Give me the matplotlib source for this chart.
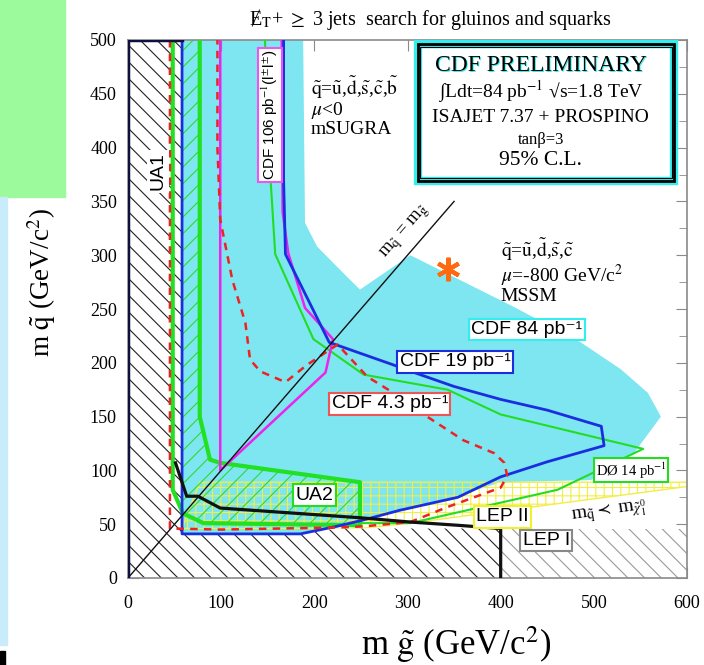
import matplotlib
matplotlib.use("Agg")
import matplotlib.pyplot as plt
from matplotlib.patches import Rectangle

plt.rcParams['font.family'] = ['Liberation Serif', 'DejaVu Serif']
plt.rcParams['mathtext.fontset'] = 'stix'
plt.rcParams['hatch.linewidth'] = 0.8

SANS = ['Liberation Sans', 'DejaVu Sans']

# excluded regions / contours in (m_gluino, m_squark), GeV/c^2
cdf84_mg = [58, 188, 190, 203, 235, 249, 303, 414, 486, 529, 558, 572, 543, 497, 400, 350, 292, 249, 224, 185, 58]
cdf84_mq = [500, 500, 330, 308, 280, 268, 300, 252, 219, 194, 172, 150, 116, 91, 89, 75, 63, 54, 48, 41, 41]

cdf19_mg = [58, 58, 185, 224, 253, 292, 354, 400, 450, 511, 508, 450, 400, 350, 307, 285, 216, 169, 167, 167]
cdf19_mq = [500, 41, 41, 48, 54, 63, 75, 94, 108, 123, 141, 156, 166, 178, 191, 198, 219, 301, 371, 500]

cdf43_mg = [45, 45, 100, 228, 253, 303, 343, 400, 407, 404, 393, 360, 321, 285, 257, 225, 192, 169, 142, 131, 126, 112, 99, 96, 96]
cdf43_mq = [500, 46, 45, 47, 48, 52, 66, 84, 95, 107, 116, 128, 150, 172, 187, 217, 198, 182, 192, 203, 237, 277, 333, 400, 500]

cdf106_mg = [99, 99, 212, 220, 190, 172, 166, 165]
cdf106_mq = [500, 100, 191, 222, 251, 302, 340, 500]

d0_mg = [147, 153, 158, 199, 253, 343, 400, 553, 461, 303, 249]
d0_mq = [500, 371, 301, 222, 189, 175, 152, 120, 82, 51, 51]

ua2_mg = [48, 48, 59, 81, 249, 249, 99, 88, 77, 77]
ua2_mq = [500, 82, 60, 51, 49, 89, 107, 110, 150, 500]

lep2_mg = [58, 77, 600, 600, 303, 250, 58]
lep2_mq = [46, 89, 89, 85, 51, 46, 46]

ua1_mg = [0, 0, 58, 58, 185, 224, 400, 400]
ua1_mq = [0, 500, 500, 41, 41, 46, 46, 0]

lep1_mg = [400, 400, 600, 600]
lep1_mq = [0, 46, 46, 0]

lowbound_mg = [51, 63, 75, 99, 249, 303, 354, 400, 400]
lowbound_mq = [107, 76, 76, 65, 56, 52, 49, 46, 0]

diag_mg = [0, 350]
diag_mq = [0, 350]

star_mg, star_mq = 344, 287

fig = plt.figure(figsize=(7.04, 6.65), dpi=100)

# slide background leftovers
fig.add_artist(Rectangle((0, 1 - 197 / 665), 65 / 704, 197 / 665, transform=fig.transFigure,
                         color='#9cf99c', zorder=0))
fig.add_artist(Rectangle((0, 20 / 665), 7 / 704, 448 / 665, transform=fig.transFigure,
                         color='#c8ecfc', zorder=0))
fig.add_artist(Rectangle((0, 0), 5 / 704, 14 / 665, transform=fig.transFigure,
                         color='black', zorder=0))

ax = fig.add_axes([128 / 704, 87 / 665, 559 / 704, 538 / 665])
ax.set_xlim(0, 600)
ax.set_ylim(0, 500)

# filled / hatched regions
ax.fill(cdf84_mg, cdf84_mq, color='#7de6f0', lw=0, zorder=1)
ax.fill(lep2_mg, lep2_mq, facecolor='none', edgecolor='#f2ee45', hatch='++', lw=0, zorder=2)
ax.plot(lep2_mg, lep2_mq, color='#f2ee45', lw=1, zorder=2)
ax.fill(ua2_mg, ua2_mq, facecolor='none', edgecolor='#30d830', hatch='//', lw=0, zorder=2)
ax.fill(ua1_mg, ua1_mq, facecolor='white', edgecolor='#222222', hatch='\\\\', lw=0, zorder=2)
ax.fill(lep1_mg, lep1_mq, facecolor='white', edgecolor='#9a9a9a', hatch='\\\\', lw=0, zorder=2)
ax.plot(ua1_mg[:3], ua1_mq[:3], color='#101040', lw=2.5, zorder=4)

# contours
ax.plot(ua2_mg, ua2_mq, color='#22e022', lw=3, zorder=3)
ax.plot(d0_mg, d0_mq, color='#22dd22', lw=1.5, zorder=3)
ax.plot(cdf106_mg, cdf106_mq, color='#ee22ee', lw=1.8, zorder=3)
ax.plot(cdf19_mg, cdf19_mq, color='#1a2ee0', lw=2, zorder=3)
ax.plot(cdf43_mg, cdf43_mq, color='#ee2222', lw=1.8, ls=(0, (3, 2.5)), zorder=3)
ax.plot(lowbound_mg, lowbound_mq, color='#111111', lw=2.3, zorder=3)
ax.plot(diag_mg, diag_mq, color='#111111', lw=1, zorder=3)
ax.plot(star_mg, star_mq, marker=(6, 2, 0), ms=17, mew=3, color='#ff6a10', zorder=4)

# boxed labels
def boxed(x, y, s, ec, size=14, rot=0, family=SANS, lw=1.5):
    ax.text(x, y, s, ha='center', va='center', fontsize=size, rotation=rot, family=family,
            zorder=6, bbox=dict(boxstyle='square,pad=0.12', fc='white', ec=ec, lw=lw))

boxed(428, 231, 'CDF 84 pb⁻¹', '#33eeee')
boxed(351, 201, 'CDF 19 pb⁻¹', '#1a2ee0')
boxed(281, 162, 'CDF 4.3 pb⁻¹', '#ee5555')
boxed(540, 100, 'DØ 14 pb$^{-1}$', '#22dd22', size=10.5, family=['Liberation Serif', 'DejaVu Serif'])
boxed(200, 77, 'UA2', '#22dd22')
boxed(402, 57, 'LEP II', '#f0f030')
boxed(449, 35, 'LEP I', '#888888')
boxed(32, 378, 'UA1', 'none', rot=90)
boxed(152, 430, 'CDF 106 pb$^{-1}$(l$^{\\pm}$l$^{\\pm}$)', '#ee55ee', size=11, rot=90)

ax.text(298, 321, r'm$_{\tilde{\rm q}}$ = m$_{\tilde{\rm g}}$', rotation=49, ha='center', va='center',
        fontsize=13.5, zorder=6)
ax.text(516, 61, r'm$_{\tilde{\rm q}}$$\prec$ m$_{\tilde{\chi}^0_1}$', rotation=8, ha='center',
        va='center', fontsize=14, zorder=6)

ax.text(196, 468, r'$\tilde{\rm q}$=$\tilde{\rm u}$,$\tilde{\rm d}$,$\tilde{\rm s}$,'
        r'$\tilde{\rm c}$,$\tilde{\rm b}$' '\n' r'$\mu$<0' '\nmSUGRA',
        ha='left', va='top', fontsize=14, linespacing=0.95, zorder=6)
ax.text(400, 317, r'$\tilde{\rm q}$=$\tilde{\rm u}$,$\tilde{\rm d}$,$\tilde{\rm s}$,$\tilde{\rm c}$'
        '\n' r'$\mu$=-800 GeV/c$^2$' '\nMSSM',
        ha='left', va='top', fontsize=14, linespacing=0.95, zorder=6)

# CDF preliminary box
ax.add_patch(Rectangle((311, 369), 275, 127, fc='white', ec='#33eeee', lw=6, zorder=5))
ax.add_patch(Rectangle((311, 369), 275, 127, fc='none', ec='black', lw=2, zorder=5))
ax.add_patch(Rectangle((313, 371.5), 271, 122, fc='none', ec='black', lw=0.8, zorder=5))
ax.text(444.5, 475, 'CDF PRELIMINARY', ha='center', va='center', fontsize=17, color='#33eeee', zorder=6)
ax.text(443, 476, 'CDF PRELIMINARY', ha='center', va='center', fontsize=17, zorder=6)
ax.text(443, 452, '∫Ldt=84 pb$^{-1}$ √s=1.8 TeV', ha='center', va='center', fontsize=14, zorder=6)
ax.text(443, 428, 'ISAJET 7.37 + PROSPINO', ha='center', va='center', fontsize=14, zorder=6)
ax.text(443, 407, 'tanβ=3', ha='center', va='center', fontsize=12, zorder=6)
ax.text(443, 388, '95% C.L.', ha='center', va='center', fontsize=15.5, zorder=6)

# axes styling
for sp in ax.spines.values():
    sp.set_color('#8a8a8a')
    sp.set_linewidth(1.2)
ax.set_xticks(range(0, 601, 100))
ax.set_yticks(range(0, 501, 50))
ax.set_yticks(range(0, 501, 25), minor=True)
ax.tick_params(which='both', direction='in', top=True, right=True, color='#8a8a8a')
ax.tick_params(which='major', length=8, labelsize=13)
ax.tick_params(which='minor', length=6)
ax.tick_params(axis='x', pad=12)
ax.tick_params(axis='y', pad=8)

ax.set_xlabel(r'm $\tilde{\rm g}$ (GeV/c$^2$)', fontsize=25)
ax.set_ylabel(r'm $\tilde{\rm q}$ (GeV/c$^2$)', fontsize=19.5)
ax.xaxis.set_label_coords(0.587, -0.124)
ax.yaxis.set_label_coords(-0.154, 0.55)
ax.xaxis.label.set(ha='center', va='center')
ax.yaxis.label.set(ha='center', va='center')

fig.text(430 / 704, 1 - 19 / 665, 'Ɇ$_{\\rm T}$+ $\\geq$ 3 jets  search for gluinos and squarks',
         ha='center', va='center', fontsize=14.5)

fig.savefig('out.png', dpi=100)
